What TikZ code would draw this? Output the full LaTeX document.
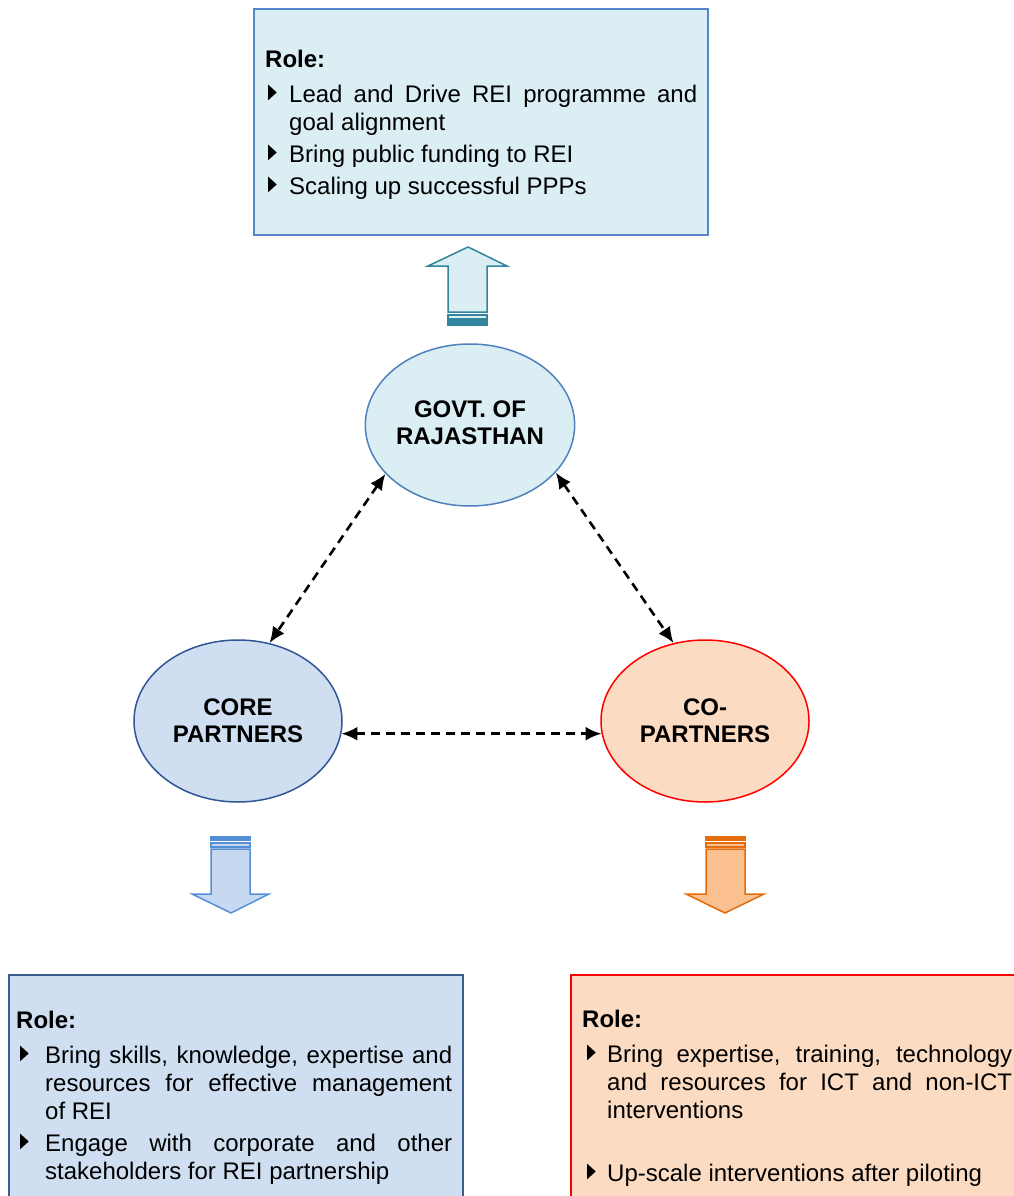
\documentclass[tikz,border=0pt]{standalone}
\usepackage{fontspec}
\setmainfont{Liberation Sans}
\usetikzlibrary{arrows.meta,shapes.geometric}

\definecolor{govtfill}{HTML}{DAEEF3}
\definecolor{govtline}{HTML}{4F81BD}
\definecolor{topline}{HTML}{5586C8}
\definecolor{upline}{HTML}{31859C}
\definecolor{corefill}{HTML}{CFDFF1}
\definecolor{coreline}{HTML}{2F5597}
\definecolor{coreboxline}{HTML}{385D8A}
\definecolor{corearrowfill}{HTML}{C6D9F1}
\definecolor{corearrowline}{HTML}{558ED5}
\definecolor{cofill}{HTML}{FCDBC3}
\definecolor{coline}{HTML}{FF0000}
\definecolor{coarrowfill}{HTML}{FAC090}
\definecolor{coarrowline}{HTML}{E46C0A}

\newcommand{\tribullet}{\tikz[baseline=0pt]\fill (0pt,2pt) -- (0pt,17.5pt) -- (8.5pt,9.75pt) -- cycle;}
\newcommand{\rolesetup}{\tolerance=10000\hyphenpenalty=10000\exhyphenpenalty=10000\spaceskip=6.67pt plus 12pt minus 0pt\relax}
\newcommand{\roleitem}[3]{\par\vspace{4pt}\hangindent=#2\hangafter=1\noindent\makebox[#2][l]{\hspace{#1}\tribullet}#3\par}

\begin{document}
\begin{tikzpicture}[x=1pt,y=-1pt,
  partner/.style={ellipse, line width=1.5pt, minimum width=208pt, minimum height=162pt, inner sep=0pt, align=center, font=\bfseries\fontsize{24}{27}\selectfont},
  link/.style={dash pattern=on 9pt off 6pt, line width=2.6pt, {Latex[length=16pt,width=14pt]}-{Latex[length=16pt,width=14pt]}},
  rolebox/.style={line width=1.5pt},
  blockarrow/.style={line width=1.5pt, line join=miter},
  stripe/.style={line width=1.1pt},
  roletext/.style={anchor=north west, inner sep=0pt, align=justify, font=\fontsize{24}{28}\selectfont}
]
\clip (0,0) rectangle (1014,1196);

% role boxes
\draw[rolebox, draw=topline, fill=govtfill] (254,9) rectangle (708,235);
\draw[rolebox, draw=coreboxline, fill=corefill] (9,975) rectangle (463,1210);
\draw[rolebox, draw=coline, fill=cofill] (571,975) rectangle (1030,1210);

\node (govtrole) [roletext, text width=432pt] at (265,47.4) {\rolesetup\strut\textbf{Role:}\par\vspace{3pt}
  \roleitem{3pt}{24pt}{Lead and Drive REI programme and goal alignment}
  \roleitem{3pt}{24pt}{Bring public funding to REI}
  \roleitem{3pt}{24pt}{Scaling up successful PPPs}};
\node (corerole) [roletext, text width=436pt] at (16,1008.4) {\rolesetup\strut\textbf{Role:}\par\vspace{3pt}
  \roleitem{4pt}{29pt}{Bring skills, knowledge, expertise and resources for effective management of REI}
  \roleitem{4pt}{29pt}{Engage with corporate and other stakeholders for REI partnership}};
\node (corole) [roletext, text width=430pt] at (582,1007.4) {\rolesetup\strut\textbf{Role:}\par\vspace{3pt}
  \roleitem{5pt}{25pt}{Bring expertise, training, technology and resources for ICT and non-ICT interventions}
  \vspace{31pt}
  \roleitem{5pt}{25pt}{Up-scale interventions after piloting}};

% block arrows
\draw[blockarrow, draw=upline, fill=govtfill] (448,312) -- (448,266) -- (428,266) -- (468,247) -- (507,266) -- (487,266) -- (487,312) -- cycle;
\draw[stripe, draw=upline, fill=govtfill] (448,315) rectangle (487,319);
\draw[stripe, draw=upline, fill=upline] (448,321) rectangle (487,325);

\draw[stripe, draw=corearrowline, fill=corearrowline] (211,837) rectangle (250,840);
\draw[stripe, draw=corearrowline, fill=corearrowfill] (211,843) rectangle (250,847);
\draw[blockarrow, draw=corearrowline, fill=corearrowfill] (211,849) -- (211,894) -- (192,894) -- (231,913) -- (269,894) -- (250,894) -- (250,849) -- cycle;

\draw[stripe, draw=coarrowline, fill=coarrowline] (706,837) rectangle (745,840);
\draw[stripe, draw=coarrowline, fill=coarrowfill] (706,843) rectangle (745,847);
\draw[blockarrow, draw=coarrowline, fill=coarrowfill] (706,849) -- (706,894) -- (686,894) -- (725,913) -- (764,894) -- (745,894) -- (745,849) -- cycle;

% partners
\node (govt) [partner, draw=govtline, fill=govtfill] at (470,425) {GOVT. OF\\RAJASTHAN\vphantom{g}};
\node (core) [partner, draw=coreline, fill=corefill] at (238,721) {CORE\\PARTNERS};
\node (co) [partner, draw=coline, fill=cofill] at (705,721) {CO-\\PARTNERS};

\draw[link] (govt.210) -- (core.68);
\draw[link] (govt.331) -- (co.112);
\draw[link] (core.-7) -- (co.187);
\end{tikzpicture}
\end{document}
